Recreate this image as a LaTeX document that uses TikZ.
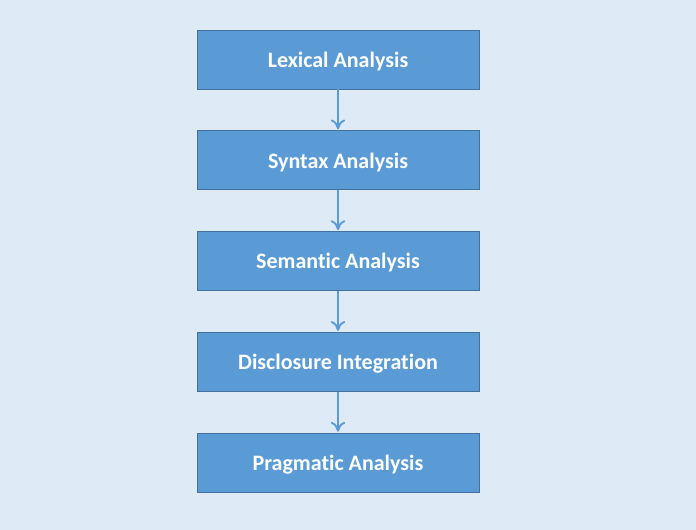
\documentclass[tikz,border=0pt]{standalone}
\usepackage{fontspec}
\setmainfont{Carlito}[Ligatures=NoCommon]
\usepackage{tikz}
\usetikzlibrary{arrows.meta, positioning}
\definecolor{fondo}{HTML}{DEEAF6}
\definecolor{caja}{HTML}{5B9BD5}
\definecolor{borde}{HTML}{41719C}
\begin{document}
\begin{tikzpicture}[
  x=0.75pt, y=0.75pt,
  font=\fontsize{16.5}{19}\selectfont\bfseries,
  etapa/.style={rectangle, draw=borde, line width=0.6pt, fill=caja, text=white,
                minimum width=211.5pt, minimum height=44.25pt, inner sep=0pt,
                text depth=0pt, align=center},
  fl/.style={-{To[length=2.6mm, width=3.8mm]}, line width=1.4pt, caja, shorten >=0.8pt}
]
% ---- Fondo ----
\fill[fondo] (0,0) rectangle (696,530);
\useasboundingbox (0,0) rectangle (696,530);

% ---- Etapas ----
\node[etapa] (lex) at (338,470.5) {Lexical Analysis};
\node[etapa, below=30.75pt of lex] (sin) {Syntax Analysis};
\node[etapa, below=30.75pt of sin] (sem) {Semantic Analysis};
\node[etapa, below=30.75pt of sem] (dis) {Disclosure Integration};
\node[etapa, below=30.75pt of dis] (pra) {Pragmatic Analysis};

\draw[fl] (lex) -- (sin);
\draw[fl] (sin) -- (sem);
\draw[fl] (sem) -- (dis);
\draw[fl] (dis) -- (pra);
\end{tikzpicture}
\end{document}
